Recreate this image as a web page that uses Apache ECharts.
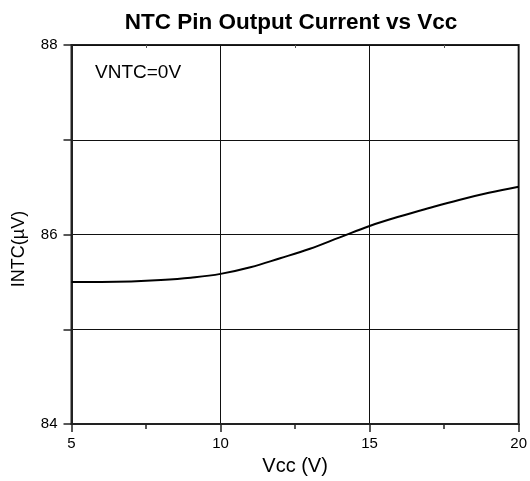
<!DOCTYPE html>
<html>
<head>
<meta charset="utf-8">
<script src="https://cdn.jsdelivr.net/npm/echarts@6/dist/echarts.min.js"></script>
<style>
  html, body { margin: 0; padding: 0; background: #fff; }
  #chart { width: 530px; height: 481px; }
</style>
</head>
<body>
<div id="chart"></div>
<script>
// data
const vcc = [5, 6, 7, 8, 9, 10, 11, 12, 13, 14, 15, 16, 17, 18, 19, 20]
const intc = [85.50, 85.50, 85.505, 85.52, 85.545, 85.585, 85.655, 85.75, 85.85, 85.97, 86.09, 86.19, 86.28, 86.365, 86.44, 86.505]
const yLabels = ['84', '86', '88']

const chart = echarts.init(document.getElementById('chart'))
const font = 'Liberation Sans, Arial, sans-serif'

chart.setOption({
  animation: false,
  title: {
    text: 'NTC Pin Output Current vs Vcc',
    left: 286,
    top: 6,
    textAlign: 'center',
    textStyle: { fontFamily: font, fontSize: 22.5, fontWeight: 'bold', color: '#000' },
  },
  grid: {
    left: 71.5, right: 10.5, top: 45, bottom: 54.5,
    show: true, borderColor: '#222', borderWidth: 2,
  },
  xAxis: [
    {
      type: 'value',
      min: 5, max: 20, interval: 5,
      name: 'Vcc (V)',
      nameLocation: 'middle',
      nameGap: 30,
      nameTextStyle: { fontFamily: font, fontSize: 20, color: '#000' },
      axisLine: { lineStyle: { color: '#222', width: 2 } },
      axisTick: { length: 8, lineStyle: { color: '#222', width: 1.5 } },
      minorTick: { show: true, splitNumber: 2, length: 5, lineStyle: { color: '#222', width: 1.5 } },
      axisLabel: { margin: 12, fontFamily: font, fontSize: 15, color: '#000' },
      splitLine: { show: true, lineStyle: { color: '#111', width: 1 } },
    },
    {
      type: 'value',
      position: 'top',
      min: 5, max: 20, interval: 5,
      axisLine: { show: false },
      axisTick: { show: true, inside: true, length: 0 },
      minorTick: { show: true, splitNumber: 2, length: 3, lineStyle: { color: '#555', width: 1 } },
      axisLabel: { show: false },
      splitLine: { show: false },
    },
  ],
  yAxis: {
    type: 'value',
    min: 84, max: 88, interval: 1,
    axisLine: { show: true, lineStyle: { color: '#222', width: 2 } },
    axisTick: { show: true, length: 8, lineStyle: { color: '#222', width: 1.5 } },
    axisLabel: {
      margin: 14, fontFamily: font, fontSize: 15, color: '#000',
      formatter: (v) => (yLabels.includes(String(v)) ? String(v) : ''),
    },
    splitLine: { show: true, lineStyle: { color: '#111', width: 1 } },
  },
  graphic: [
    {
      type: 'text',
      left: 95, top: 63,
      style: { text: 'VNTC=0V', fontFamily: font, fontSize: 19, fill: '#000' },
    },
    {
      type: 'text',
      x: 19.5, y: 249,
      rotation: Math.PI / 2,
      style: {
        text: 'INTC(µV)', fontFamily: font, fontSize: 18, fill: '#000',
        align: 'center', verticalAlign: 'middle',
      },
    },
  ],
  series: [
    {
      type: 'line',
      data: vcc.map((x, i) => [x, intc[i]]),
      smooth: 0.4,
      showSymbol: false,
      lineStyle: { color: '#000', width: 2 },
    },
  ],
})
</script>
</body>
</html>
